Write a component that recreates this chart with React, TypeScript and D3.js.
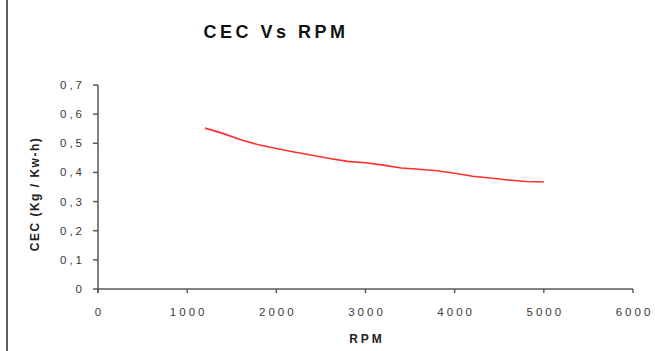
import React from "react";
import * as d3 from "d3";

// Specific fuel consumption against engine speed
const rpm = [1200, 1400, 1600, 1800, 2000, 2200, 2400, 2600, 2800, 3000, 3200, 3400, 3600, 3800, 4000, 4200, 4400, 4600, 4800, 5000];
const cec = [0.552, 0.534, 0.512, 0.495, 0.482, 0.470, 0.459, 0.448, 0.438, 0.433, 0.425, 0.415, 0.411, 0.406, 0.397, 0.387, 0.381, 0.374, 0.369, 0.367];

const xTicks = [0, 1000, 2000, 3000, 4000, 5000, 6000];
const yTicks = [0, 0.1, 0.2, 0.3, 0.4, 0.5, 0.6, 0.7];

const W = 655;
const H = 351;
const margin = { left: 98, right: 22, top: 85, bottom: 62 };

export default function App() {
  const x = d3.scaleLinear().domain([0, 6000]).range([margin.left, W - margin.right]);
  const y = d3.scaleLinear().domain([0, 0.7]).range([H - margin.bottom, margin.top]);

  const points: [number, number][] = rpm.map((r, i) => [r, cec[i]]);
  const line = d3
    .line<[number, number]>()
    .x((d) => x(d[0]))
    .y((d) => y(d[1]));

  const axisColor = "#5a5a5a";
  const font = "Arial, 'Liberation Sans', sans-serif";
  const fmtY = (v: number) => (v === 0 ? "0" : v.toFixed(1).replace(".", ","));

  const x0 = x(0);
  const y0 = y(0);
  const tickSpacing = 3;

  return (
    <svg
      width={W}
      height={H}
      style={{ position: "absolute", left: 0, top: 0, display: "block", background: "#fff" }}
      fontFamily={font}
    >
      {/* frame edge on the left */}
      <line x1={7} x2={7} y1={0} y2={H} stroke="#5f5f5f" strokeWidth={2} />

      <text
        x={276}
        y={38}
        fontSize={18}
        fontWeight="bold"
        letterSpacing={3.5}
        fill="#111"
        textAnchor="middle"
      >
        CEC Vs RPM
      </text>

      {/* y axis */}
      <line x1={x0} x2={x0} y1={y(0.7)} y2={y0 + 4} stroke={axisColor} strokeWidth={1.5} />
      {yTicks.map((t) => (
        <g key={`y${t}`}>
          <line x1={x0 - 5} x2={x0} y1={y(t)} y2={y(t)} stroke={axisColor} strokeWidth={1.5} />
          <text
            x={82 + tickSpacing}
            y={y(t)}
            dy="0.35em"
            fontSize={11.5}
            letterSpacing={tickSpacing}
            fill="#3a3a3a"
            textAnchor="end"
          >
            {fmtY(t)}
          </text>
        </g>
      ))}

      {/* x axis */}
      <line x1={x0} x2={x(6000)} y1={y0} y2={y0} stroke={axisColor} strokeWidth={1.5} />
      {xTicks.map((t) => (
        <g key={`x${t}`}>
          <line x1={x(t)} x2={x(t)} y1={y0} y2={y0 + 4} stroke={axisColor} strokeWidth={1.5} />
          <text
            x={x(t) + tickSpacing / 2}
            y={316}
            fontSize={11.5}
            letterSpacing={tickSpacing}
            fill="#3a3a3a"
            textAnchor="middle"
          >
            {t}
          </text>
        </g>
      ))}

      <text
        x={(x0 + x(6000)) / 2 + 1.5}
        y={343}
        fontSize={12}
        fontWeight="bold"
        letterSpacing={3}
        fill="#222"
        textAnchor="middle"
      >
        RPM
      </text>

      <text
        transform={`translate(39, ${(y(0) + y(0.7)) / 2 + 7}) rotate(-90)`}
        fontSize={12}
        fontWeight="bold"
        letterSpacing={1.5}
        fill="#222"
        textAnchor="middle"
      >
        CEC (Kg / Kw-h)
      </text>

      <path d={line(points) ?? ""} fill="none" stroke="#ff2f2f" strokeWidth={1.6} />
    </svg>
  );
}
